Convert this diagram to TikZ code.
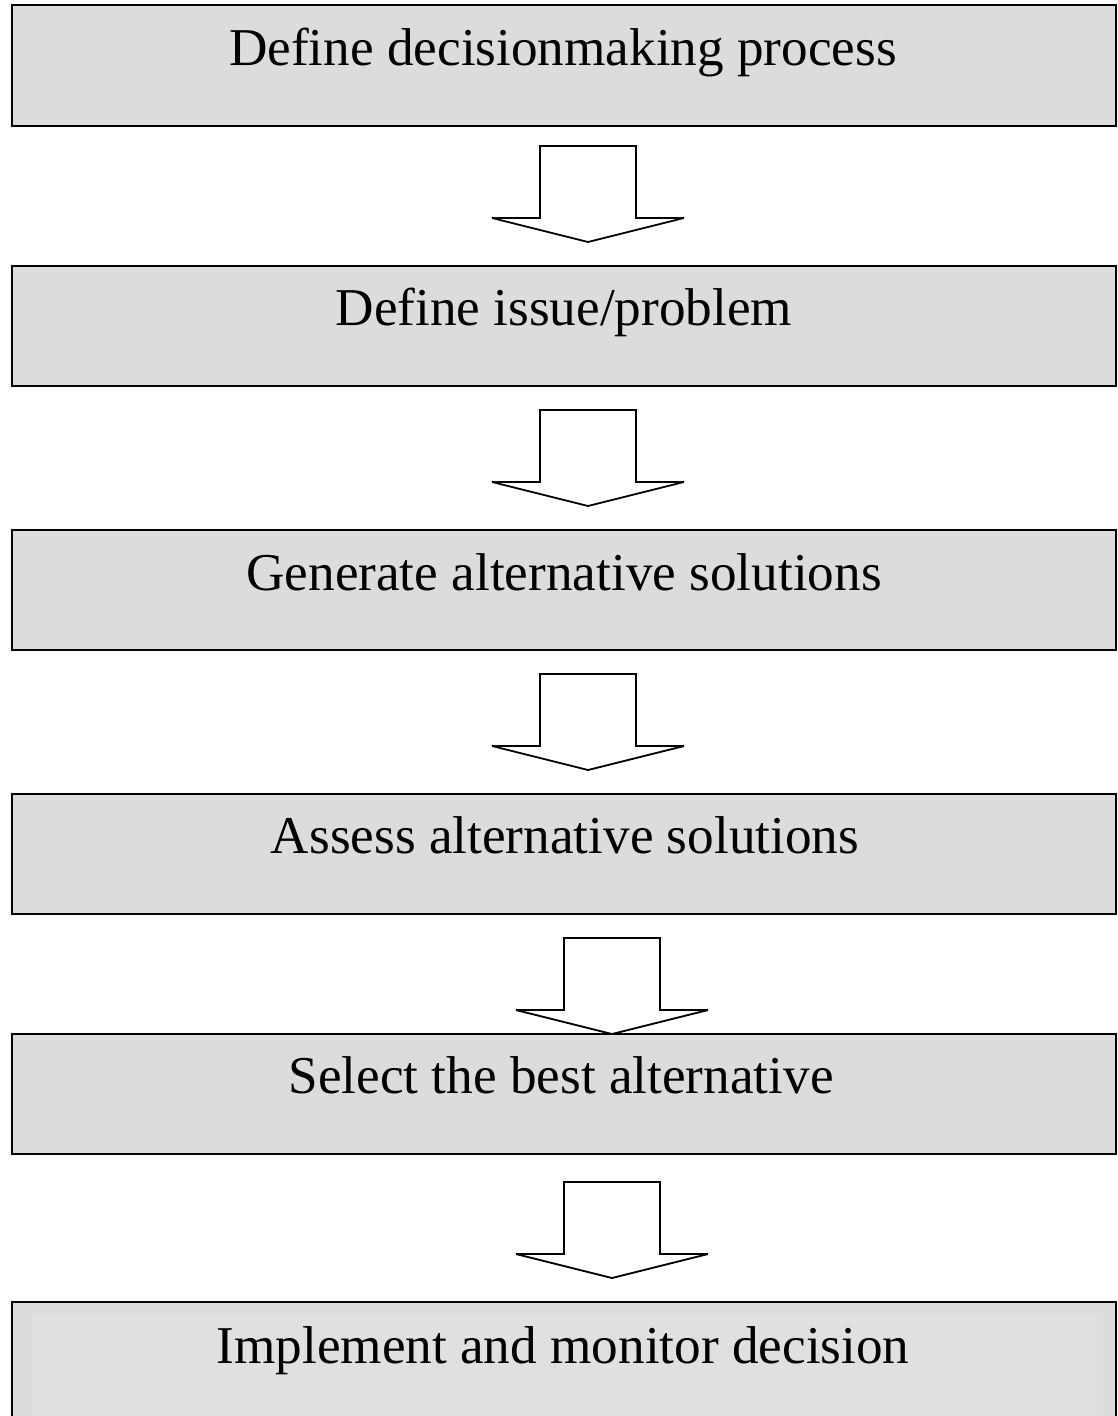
\documentclass[tikz,border=0pt]{standalone}
\usepackage{fontspec}
\setmainfont{Liberation Serif}
\usetikzlibrary{calc}
\definecolor{boxgray}{HTML}{DCDCDC}
\definecolor{innergray}{HTML}{E0E0E0}
\tikzset{
  stagebox/.style={draw=black, line width=2.6pt, fill=boxgray, rectangle,
    minimum width=1104pt, inner sep=0pt, outer sep=0pt},
  stagetext/.style={anchor=base, inner sep=0pt, font=\fontsize{53.2}{60}\selectfont},
  blockarrow/.style={draw=black, line width=1.8pt, fill=white, line join=miter, miter limit=3},
}
% hollow down arrow ending #3 above the top of node #2, shifted #4 from its centre
\newcommand\flowarrow[4]{%
  \coordinate (#1-tip) at ($(#2.north)+(#4,-#3)$);
  \draw[blockarrow]
    ($(#1-tip)+(-48,-96)$) -- ($(#1-tip)+(-48,-24)$) -- ($(#1-tip)+(-96,-24)$)
    -- (#1-tip) -- ($(#1-tip)+(96,-24)$) -- ($(#1-tip)+(48,-24)$)
    -- ($(#1-tip)+(48,-96)$) -- cycle;}
\begin{document}
\begin{tikzpicture}[x=1pt,y=-1pt]
  \path[use as bounding box, clip] (0,0) rectangle (1118,1416);
  \fill[white] (0,0) rectangle (1118,1416);

  % process stages
  \node[stagebox, minimum height=121pt] (b1) at (564,65.5) {};
  \node[stagebox, minimum height=120pt] (b2) at (564,326) {};
  \node[stagebox, minimum height=120pt] (b3) at (564,590) {};
  \node[stagebox, minimum height=120pt] (b4) at (564,854) {};
  \node[stagebox, minimum height=120pt] (b5) at (564,1094) {};
  \node[stagebox, minimum height=130pt] (b6) at (564,1367) {};
  \fill[innergray] (32,1314) rectangle (1097,1420);

  \node[stagetext] (t1) at (563,65.5) {Define decisionmaking process};
  \node[stagetext] (t2) at (564,325.5) {Define issue/problem};
  \node[stagetext] (t3) at (564,590.5) {Generate alternative solutions};
  \node[stagetext] (t4) at (565,853) {Assess alternative solutions};
  \node[stagetext] (t5) at (561,1093) {Select the best alternative};
  \node[stagetext] (t6) at (563,1363) {Implement and monitor decision};

  % arrows between stages
  \flowarrow{a1}{b2}{24}{24}
  \flowarrow{a2}{b3}{24}{24}
  \flowarrow{a3}{b4}{24}{24}
  \flowarrow{a4}{b5}{0}{48}
  \flowarrow{a5}{b6}{24}{48}
\end{tikzpicture}
\end{document}
